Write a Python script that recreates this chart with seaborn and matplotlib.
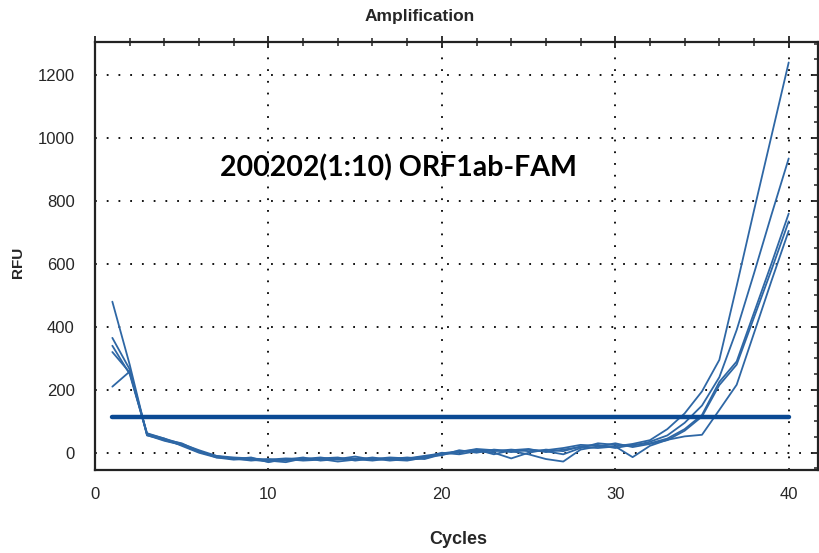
import numpy as np
import pandas as pd
import matplotlib
matplotlib.use("Agg")
import matplotlib.pyplot as plt
import seaborn as sns
from matplotlib.ticker import MultipleLocator

cycles = list(range(1, 41))

well_a = [340, 250, 60, 45, 28, 8, -10, -15, -18, -22, -18, -20, -15, -22, -18, -20, -15, -18, -10, -2,
          5, 8, 5, 10, 5, 8, 15, 25, 22, 20, 28, 40, 75, 125, 195, 295, 530, 770, 1005, 1240]
well_b = [365, 265, 58, 40, 25, 3, -12, -20, -22, -28, -22, -15, -25, -20, -12, -22, -20, -15, -20, -5,
          2, 12, 8, 2, 10, 5, -5, 15, 30, 25, 22, 35, 55, 95, 150, 240, 390, 570, 755, 935]
well_c = [480, 280, 55, 42, 30, 5, -15, -22, -18, -25, -30, -18, -20, -28, -22, -15, -22, -25, -15, 0,
          -5, 5, 0, -18, 0, 10, 5, 20, 25, 15, 25, 30, 45, 75, 120, 225, 290, 445, 600, 760]
well_d = [320, 255, 62, 45, 22, 0, -15, -18, -25, -20, -25, -22, -18, -15, -25, -18, -25, -20, -12, -8,
          8, 0, 10, 5, -5, -20, -28, 10, 20, 30, 18, 28, 40, 70, 115, 215, 280, 430, 580, 735]
well_e = [210, 258, 56, 38, 25, 2, -10, -20, -15, -30, -20, -25, -22, -18, -20, -25, -18, -22, -18, -3,
          0, 10, -5, 8, 12, 2, 10, 18, 15, 20, -14, 22, 41, 52, 57, 136, 216, 380, 545, 705]

wells = {"A": well_a, "B": well_b, "C": well_c, "D": well_d, "E": well_e}

threshold_x = [1, 40]
threshold_y = [112, 112]

title = "Amplification"
annotation = "200202(1:10) ORF1ab-FAM"
xlabel = "Cycles"
ylabel = "RFU"

rows = []
for name, vals in wells.items():
    for c, v in zip(cycles, vals):
        rows.append({"Well": name, "Cycle": c, "RFU": v})
df = pd.DataFrame(rows)
thr = pd.DataFrame({"Cycle": threshold_x, "RFU": threshold_y})

sns.set_style("white")
plt.rcParams["font.family"] = ["Liberation Sans", "DejaVu Sans"]

fig = plt.figure(figsize=(8.19, 5.53), dpi=100)
ax = fig.add_axes([0.116, 0.150, 0.883, 0.774])

sns.lineplot(data=df, x="Cycle", y="RFU", units="Well", estimator=None,
             color="#2e67a5", linewidth=1.3, ax=ax, legend=False)
sns.lineplot(data=thr, x="Cycle", y="RFU", color="#0b4a94", linewidth=3.2,
             ax=ax, legend=False)

ax.set_xlim(0, 41.7)
ax.set_ylim(-55, 1305)
ax.xaxis.set_major_locator(MultipleLocator(10))
ax.xaxis.set_minor_locator(MultipleLocator(2))
ax.yaxis.set_major_locator(MultipleLocator(200))
ax.yaxis.set_minor_locator(MultipleLocator(50))

ax.grid(True, which="major", color="black", linestyle=(0, (1, 5.5)), linewidth=1.3)
ax.set_axisbelow(True)

for s in ax.spines.values():
    s.set_color("#222222")
    s.set_linewidth(1.6)

ax.tick_params(which="major", direction="inout", length=9, width=1.3, color="#222222",
               top=True, right=True, labelsize=12, pad=10)
ax.tick_params(which="minor", direction="inout", length=6, width=1.1, color="#222222",
               top=True, right=True)
ax.tick_params(axis="x", which="major", pad=8)

ax.set_xlabel("")
ax.set_ylabel("")
fig.text(0.56, 0.024, xlabel, ha="center", va="center", fontsize=13, fontweight="bold")
fig.text(0.022, 0.526, ylabel, ha="center", va="center", fontsize=11, fontweight="bold",
         rotation=90)
fig.text(0.512, 0.971, title, ha="center", va="center", fontsize=12.5, fontweight="bold")
ax.text(17.5, 905, annotation, ha="center", va="center", fontsize=20.5, fontweight="bold",
        color="black", family=["Lato", "DejaVu Sans"])

fig.savefig("out.png", dpi=100)
